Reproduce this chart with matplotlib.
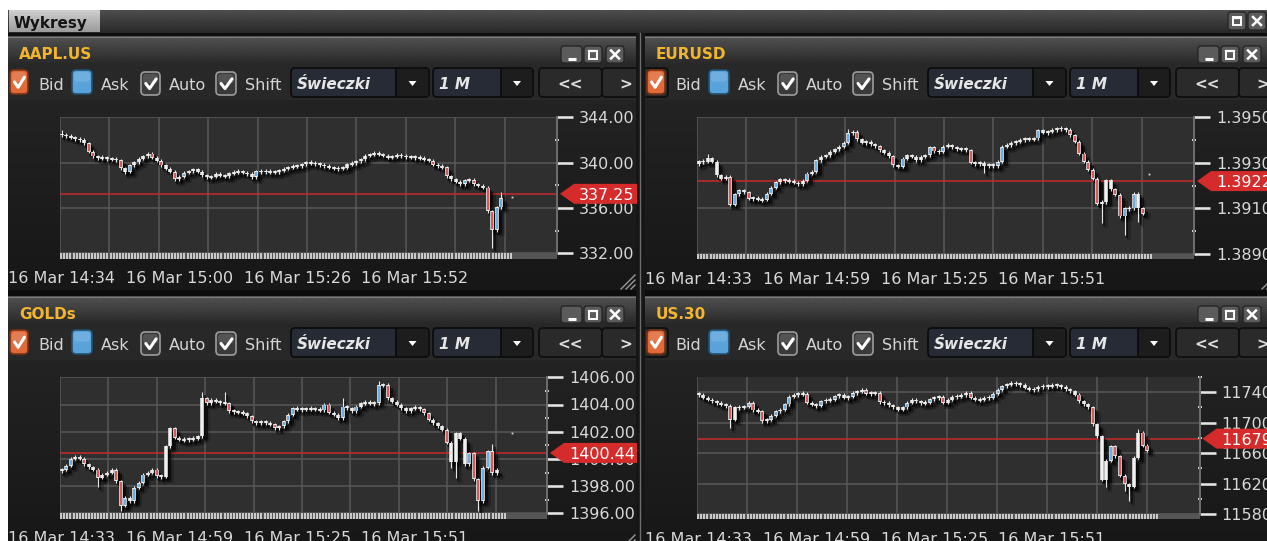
#!/usr/bin/env python
# -*- coding: utf-8 -*-

# Trading platform screenshot: four 1-minute candle charts ("Wykresy")

import numpy as np
import matplotlib
matplotlib.use('Agg')
import matplotlib.pyplot as plt
import matplotlib.transforms as mtransforms
from matplotlib.patches import Rectangle, FancyBboxPatch, Polygon
from matplotlib.collections import LineCollection
from matplotlib.colors import LinearSegmentedColormap

plt.rcParams['font.family'] = ['DejaVu Sans']
plt.rcParams['hatch.linewidth'] = 0.6

# ---------------------------------------------------------------- data
times_aapl = ['16 Mar 14:34', '16 Mar 15:00', '16 Mar 15:26', '16 Mar 15:52']
times_other = ['16 Mar 14:33', '16 Mar 14:59', '16 Mar 15:25', '16 Mar 15:51']
time_ticks = [0, 26, 52, 78]

# AAPL.US closes, one per minute
aapl_open0 = 342.5
aapl_close = [342.45, 342.35, 342.2, 342.1, 342.0, 341.7, 340.95, 340.55, 340.4, 340.45,
              340.3, 340.35, 340.2, 339.5, 339.2, 339.75, 340.05, 340.35, 340.55, 340.8,
              340.45, 340.15, 339.75, 339.45, 339.2, 338.55, 338.75, 339.1, 339.25, 339.4,
              339.2, 338.9, 338.7, 338.75, 339.0, 338.85, 338.8, 339.05, 339.15, 339.25,
              339.1, 339.0, 338.7, 339.25, 339.2, 339.25, 339.15, 339.2, 339.3, 339.45,
              339.6, 339.7, 339.7, 339.85, 340.05, 339.95, 339.9, 339.8, 339.7, 339.6,
              339.45, 339.5, 339.55, 339.85, 339.95, 340.1, 340.3, 340.6, 340.75, 340.8,
              340.75, 340.6, 340.45, 340.55, 340.65, 340.6, 340.5, 340.5, 340.45, 340.4,
              340.3, 340.15, 339.8, 339.7, 339.6, 338.8, 338.55, 338.3, 338.1, 338.45,
              338.5, 338.1, 337.95, 337.8, 335.7, 334.05, 336.05, 336.9]
aapl_high = {0: 342.9, 97: 337.4}
aapl_low = {14: 339.0, 95: 332.5}
aapl_plain = []
aapl_last = 337.25
aapl_dot = (99.4, 337.0)
aapl_major = [344, 340, 336, 332]
aapl_minor = [342, 338, 334]

# EURUSD
eur_open0 = 1.39295
eur_close = [1.39307, 1.39305, 1.3932, 1.39305, 1.39246, 1.39231, 1.39238, 1.39116, 1.39162, 1.3918,
             1.3917, 1.39143, 1.39147, 1.39138, 1.39138, 1.39165, 1.39191, 1.39216, 1.39227, 1.39221,
             1.39221, 1.39212, 1.39206, 1.39221, 1.39253, 1.3926, 1.39312, 1.39327, 1.39334, 1.39349,
             1.39359, 1.39371, 1.39388, 1.39429, 1.39437, 1.39403, 1.39388, 1.39393, 1.39382, 1.39374,
             1.39356, 1.39344, 1.3933, 1.3929, 1.39282, 1.39319, 1.39334, 1.39327, 1.39312, 1.39327,
             1.39334, 1.39368, 1.3935, 1.39349, 1.39371, 1.39378, 1.39368, 1.39359, 1.39363, 1.39356,
             1.393, 1.39297, 1.393, 1.39285, 1.39294, 1.39285, 1.39304, 1.39371, 1.39378, 1.39388,
             1.39393, 1.394, 1.39407, 1.39403, 1.39407, 1.39444, 1.39432, 1.39437, 1.39444, 1.39451,
             1.39451, 1.39445, 1.39422, 1.39393, 1.39341, 1.39304, 1.3927, 1.3923, 1.39121, 1.39128,
             1.39224, 1.39184, 1.3916, 1.39065, 1.391, 1.391, 1.39165, 1.391, 1.39077]
eur_high = {2: 1.3934, 33: 1.39448}
eur_low = {63: 1.39254, 89: 1.39035, 94: 1.38985, 97: 1.3904}
eur_plain = [4, 10, 89, 90, 91, 97]
eur_last = 1.3922
eur_dot = (99.5, 1.39249)
eur_major = [1.395, 1.393, 1.391, 1.389]
eur_minor = [1.394, 1.392, 1.390]

# GOLDs
gold_open0 = 1399.1
gold_close = [1399.22, 1399.5, 1400.0, 1400.15, 1400.0, 1399.6, 1399.4, 1399.22, 1398.6, 1398.85,
              1398.97, 1399.2, 1398.37, 1396.54, 1397.15, 1396.9, 1397.88, 1398.24, 1398.85, 1398.97,
              1399.22, 1398.73, 1398.7, 1400.93, 1402.27, 1401.54, 1401.41, 1401.41, 1401.46, 1401.5,
              1401.66, 1404.46, 1404.1, 1404.34, 1404.2, 1404.15, 1404.1, 1403.5, 1403.49, 1403.41,
              1403.36, 1403.12, 1402.76, 1402.63, 1402.76, 1402.63, 1402.56, 1402.27, 1402.39, 1402.76,
              1403.24, 1403.73, 1403.66, 1403.66, 1403.68, 1403.68, 1403.66, 1403.56, 1404.0, 1403.41,
              1403.24, 1403.0, 1403.85, 1403.73, 1403.49, 1403.85, 1404.1, 1404.17, 1404.1, 1404.1,
              1405.44, 1405.44, 1404.46, 1404.22, 1403.97, 1403.73, 1403.49, 1403.73, 1403.8, 1403.66,
              1403.37, 1402.88, 1402.63, 1402.39, 1402.15, 1401.17, 1399.8, 1401.9, 1401.5, 1399.6,
              1400.4, 1398.5, 1396.9, 1399.34, 1400.56, 1398.95, 1399.2]
gold_high = {31: 1404.95, 36: 1404.9, 62: 1404.45, 70: 1405.75, 95: 1401.1}
gold_low = {8: 1397.95, 13: 1396.2, 86: 1399.3, 87: 1398.6, 92: 1396.2}
gold_plain = [23, 24, 31, 86, 87, 88, 89]
gold_last = 1400.44
gold_dot = (99.4, 1401.9)
gold_major = [1406, 1404, 1402, 1400, 1398, 1396]
gold_minor = [1405, 1403, 1401, 1399, 1397]

# US.30
us_open0 = 11738
us_close = [11737, 11733, 11730, 11728, 11726, 11724, 11722, 11704, 11720, 11720,
            11721, 11726, 11716, 11715, 11702, 11704, 11709, 11715, 11717, 11724,
            11734, 11737, 11738, 11738, 11726, 11724, 11722, 11728, 11730, 11730,
            11735, 11737, 11733, 11734, 11739, 11741, 11743, 11738, 11739, 11739,
            11727, 11726, 11723, 11720, 11717, 11720, 11726, 11730, 11728, 11726,
            11726, 11731, 11733, 11734, 11726, 11730, 11734, 11735, 11736, 11739,
            11733, 11730, 11730, 11733, 11733, 11738, 11743, 11748, 11750, 11752,
            11751, 11750, 11746, 11743, 11744, 11747, 11748, 11748, 11749, 11749,
            11747, 11744, 11741, 11737, 11728, 11724, 11720, 11698, 11682, 11625,
            11650, 11669, 11656, 11630, 11619, 11616, 11654, 11687, 11670, 11663]
us_high = {97: 11692}
us_low = {7: 11693, 90: 11615, 94: 11610, 95: 11597}
us_plain = [8, 88, 89, 90, 95, 96, 97]
us_last = 11679
us_dot = None
us_major = [11740, 11700, 11660, 11620, 11580]
us_minor = [11760, 11720, 11680, 11640, 11600]

# ---------------------------------------------------------------- layout
W, H = 1267, 541
PX = 0.72      # points per pixel at 100 dpi
STEP = 4.53    # pixels per one-minute candle

fig = plt.figure(figsize=(W / 100, H / 100), dpi=100, facecolor='white')
bg = fig.add_axes([0, 0, 1, 1])
bg.axis('off')


def rect(x0, y0, x1, y1, fc, z=1, **kw):
    bg.add_patch(Rectangle((x0, y0), x1 - x0, y1 - y0, facecolor=fc, edgecolor='none', lw=0, zorder=z, **kw))


def gradient(x0, y0, x1, y1, top, bottom, z=1):
    cmap = LinearSegmentedColormap.from_list('g', [top, bottom])
    bg.imshow(np.linspace(0, 1, 50).reshape(-1, 1), extent=(x0, x1, y1, y0), cmap=cmap,
              aspect='auto', zorder=z, interpolation='bilinear')


def hatch(x0, y0, x1, y1, z=1.1):
    bg.add_patch(Rectangle((x0, y0), x1 - x0, y1 - y0, fill=False, hatch='/' * 14,
                           edgecolor=(0, 0, 0, 0.22), lw=0, zorder=z))


def button(x0, y0, x1, y1, glyph):
    bg.add_patch(FancyBboxPatch((x0, y0), x1 - x0, y1 - y0, boxstyle='round,pad=0,rounding_size=3',
                                fc='#5b5b5b', ec='#262626', lw=1, zorder=3))
    cx, cy = (x0 + x1) / 2, (y0 + y1) / 2
    if glyph == 'min':
        bg.plot([cx - 4, cx + 4], [cy + 4, cy + 4], color='white', lw=2.2, zorder=4, solid_capstyle='butt')
    elif glyph == 'max':
        bg.add_patch(Rectangle((cx - 4, cy - 4), 8, 8, fill=False, ec='white', lw=1.4, zorder=4))
        bg.plot([cx - 4, cx + 4], [cy - 3.3, cy - 3.3], color='white', lw=1.6, zorder=4)
    else:
        bg.plot([cx - 4, cx + 4], [cy - 4, cy + 4], color='white', lw=1.8, zorder=4)
        bg.plot([cx - 4, cx + 4], [cy + 4, cy - 4], color='white', lw=1.8, zorder=4)


def checkbox(x0, y0, x1, y1, fc, ec, check):
    w, h = x1 - x0, y1 - y0
    bg.add_patch(FancyBboxPatch((x0, y0), w, h, boxstyle='round,pad=0,rounding_size=4',
                                fc=fc, ec=ec, lw=1.2, zorder=3))
    bg.add_patch(FancyBboxPatch((x0 + 2, y0 + 2), w - 4, h * 0.4, boxstyle='round,pad=0,rounding_size=3',
                                fc='white', alpha=0.13, ec='none', zorder=3.1))
    if check:
        bg.plot([x0 + 0.25 * w, x0 + 0.45 * w, x0 + 0.8 * w], [y0 + 0.5 * h, y0 + 0.72 * h, y0 + 0.3 * h],
                color='white', lw=2.2, zorder=4, solid_capstyle='round', solid_joinstyle='round')


def dropdown(x0, x1, xdiv, label, dy):
    bg.add_patch(FancyBboxPatch((x0, 68 + dy), x1 - x0, 29, boxstyle='round,pad=0,rounding_size=4',
                                fc='#262b35', ec='#0a0a0a', lw=1.2, zorder=3))
    rect(xdiv, 69 + dy, x1 - 1.5, 96 + dy, '#1d1d1d', z=3.1)
    bg.plot([xdiv, xdiv], [69 + dy, 96 + dy], color='#0a0a0a', lw=1.2, zorder=3.2)
    cx, cy = (xdiv + x1) / 2, 83 + dy
    bg.add_patch(Polygon([(cx - 4, cy - 2), (cx + 4, cy - 2), (cx, cy + 3)], fc='white', ec='none', zorder=3.3))
    bg.text(x0 + 6, 83 + dy, label, color='#e6e6e6', fontsize=11, fontweight='bold', fontstyle='italic',
            va='center_baseline', zorder=3.3)


def navbutton(x0, x1, label, tx, dy):
    bg.add_patch(FancyBboxPatch((x0, 68 + dy), x1 - x0, 29, boxstyle='round,pad=0,rounding_size=4',
                                fc='#2a2a2a', ec='#0d0d0d', lw=1.2, zorder=3))
    bg.text(tx, 83 + dy, label, color='#e0e0e0', fontsize=11, fontweight='bold', ha='center',
            va='center_baseline', zorder=3.3)


def panel(ox, dy, right, title):
    gradient(ox, 36 + dy, right, 65 + dy, '#5c5c5c', '#2d2d2d')
    hatch(ox, 36 + dy, right, 65 + dy)
    bg.plot([ox, right], [36.5 + dy] * 2, color='#7c7c7c', lw=0.8, zorder=2)
    bg.text(ox + 11, 53 + dy, title, color='#f3b52f', fontsize=11, fontweight='bold',
            va='center_baseline', zorder=3)
    for (a, b), g in zip([(553, 574), (576, 594), (598, 616)], ['min', 'max', 'close']):
        button(ox + a, 46 + dy, ox + b, 63 + dy, g)
    rect(ox, 65 + dy, right, 100 + dy, '#282828', z=1)
    gradient(ox, 100 + dy, right, 290 + dy, '#232323', '#171717')
    txt = dict(color='#d4d4d4', fontsize=11.5, va='center_baseline', zorder=3)
    checkbox(ox + 2, 70 + dy, ox + 20, 94 + dy, '#e06a3a', '#7a3214', True)
    bg.text(ox + 30, 83.5 + dy, 'Bid', **txt)
    checkbox(ox + 64, 70 + dy, ox + 84, 94 + dy, '#5aa3da', '#23506f', False)
    bg.text(ox + 93, 83.5 + dy, 'Ask', **txt)
    checkbox(ox + 133, 72 + dy, ox + 152, 95 + dy, '#3a3a3a', '#9c9c9c', True)
    bg.text(ox + 161, 83.5 + dy, 'Auto', **txt)
    checkbox(ox + 208, 72 + dy, ox + 228, 95 + dy, '#3a3a3a', '#9c9c9c', True)
    bg.text(ox + 237, 83.5 + dy, 'Shift', **txt)
    dropdown(ox + 283, ox + 421, ox + 388, 'Świeczki', dy)
    dropdown(ox + 425, ox + 525, ox + 493, '1 M', dy)
    navbutton(ox + 531, ox + 594, '<<', ox + 562, dy)
    navbutton(ox + 594, ox + 660, '>', ox + 618, dy)
    for k in range(3):
        bg.plot([right - 15 + 5 * k, right - 1], [289 + dy, 275 + dy + 5 * k], color='#9a9a9a', lw=1, zorder=3)


# window frame
rect(8, 10, W, H, '#1a1a1a', z=0.5)
gradient(8, 10, W, 33, '#585858', '#2e2e2e')
hatch(8, 10, W, 33)
gradient(9, 10, 100, 32, '#cfcfcf', '#9c9c9c', z=2)
bg.text(14, 22, 'Wykresy', fontsize=11, fontweight='bold', color='#141414', va='center_baseline', zorder=3)
button(1228, 12, 1246, 30, 'max')
button(1248, 12, 1266, 30, 'close')
rect(8, 33, W, 36, '#0e0e0e', z=1.5)

panel(8, 0, 636, 'AAPL.US')
panel(645, 0, W + 10, 'EURUSD')
panel(8, 260, 636, 'GOLDs')
panel(645, 260, W + 10, 'US.30')

rect(8, 290, W, 296, '#0c0c0c', z=5)
rect(636, 33, 645, H, '#161616', z=5)
bg.plot([639.5, 639.5], [33, H], color='#6e6e6e', lw=1, zorder=5.1)

bg.set_xlim(0, W)
bg.set_ylim(H, 0)


# ---------------------------------------------------------------- charts
def chart(box, closes, open0, highs, lows, plain, ylim, major, minor, fmt,
          last, dot, times, panel_right):
    x0, y0, x1, y1 = box
    width, height = x1 - x0, y1 - y0
    ax = fig.add_axes([x0 / W, 1 - y1 / H, width / W, height / H])
    ax.set_facecolor('#2f2f2f')
    ax.set_xlim(-1.7 / STEP, (width - 1.7) / STEP)
    ax.set_ylim(*ylim)
    unit = (ylim[1] - ylim[0]) / height

    for s in ['top', 'left', 'bottom']:
        ax.spines[s].set_visible(False)
    ax.spines['right'].set_color('#6c6c6c')
    ax.spines['right'].set_linewidth(2 * PX)
    ax.yaxis.tick_right()
    ax.set_yticks(major)
    ax.set_yticklabels([fmt.format(v) for v in major])
    ax.set_yticks(minor, minor=True)
    ax.tick_params(axis='y', which='major', direction='out', length=16 * PX, width=2.6 * PX,
                   color='#e4e4e4', pad=6 * PX, labelsize=11.5, labelcolor='#d8d8d8')
    ax.tick_params(axis='y', which='minor', direction='inout', length=4 * PX, width=2 * PX, color='#d0d0d0')
    ax.set_xticks(time_ticks)
    ax.set_xticklabels(times)
    ax.tick_params(axis='x', length=0, pad=18 * PX, labelsize=11.5, labelcolor='#d8d8d8')

    for v in major:
        ax.axhline(v, color='#595959', lw=1.5 * PX, zorder=0.5)
    for k in range(10):
        ax.axvline((k * width / 10.06 - 1.7) / STEP, color='#595959', lw=1.5 * PX, zorder=0.5)
    ax.axhline(last, color='#cc2a2a', lw=1.5 * PX, zorder=1)

    # candles
    n = len(closes)
    xs = np.arange(n)
    opens = [open0] + list(closes[:-1])
    blo, bhi, wlo, whi, fills = [], [], [], [], []
    for i in range(n):
        o, c = opens[i], closes[i]
        lo, hi = min(o, c), max(o, c)
        if hi - lo < 1.8 * unit:
            mid = (o + c) / 2
            lo, hi = mid - 0.9 * unit, mid + 0.9 * unit
        blo.append(lo)
        bhi.append(hi)
        whi.append(max(highs.get(i, hi + 1.5 * unit), hi))
        wlo.append(min(lows.get(i, lo - 1.5 * unit), lo))
        if i in plain or c == o:
            fills.append('#f2f2f2')
        elif c < o:
            fills.append('#d03838')
        else:
            fills.append('#47a2e6')

    def segs(lo, hi, idx=None):
        idx = range(n) if idx is None else idx
        return [[(xs[i], lo[i]), (xs[i], hi[i])] for i in idx]

    for dx, dy, lwb, alpha in [(4, -5, 7, 0.2), (2.5, -3, 5, 0.5)]:
        sh = mtransforms.offset_copy(ax.transData, x=dx, y=dy, units='dots')
        ax.add_collection(LineCollection(segs(blo, bhi), colors='black', alpha=alpha,
                                         linewidths=lwb * PX, transform=sh, zorder=2, capstyle='butt'))
        ax.add_collection(LineCollection(segs(wlo, whi), colors='black', alpha=alpha,
                                         linewidths=(lwb - 3) * PX, transform=sh, zorder=2, capstyle='butt'))
    ax.add_collection(LineCollection(segs(wlo, whi), colors='#e8e8e8', linewidths=1.1 * PX,
                                     zorder=3, capstyle='butt'))
    ax.add_collection(LineCollection(segs(blo, bhi), colors='#ececec', linewidths=3.6 * PX,
                                     zorder=3.1, capstyle='butt'))
    tall = [i for i in range(n) if (bhi[i] - blo[i]) > 3.5 * unit]
    ilo = [b + 0.9 * unit for b in blo]
    ihi = [b - 0.9 * unit for b in bhi]
    ax.add_collection(LineCollection(segs(ilo, ihi, tall), colors=[fills[i] for i in tall],
                                     linewidths=1.6 * PX, zorder=3.2, capstyle='butt'))
    if dot is not None:
        ax.plot([dot[0]], [dot[1]], marker='s', ms=1.8 * PX, color='#d8d8d8', mew=0, zorder=3)

    # scroll strip under the plot
    strip = mtransforms.blended_transform_factory(ax.transData, ax.transAxes)
    ax.add_patch(Rectangle((0, -0.04), 1, 0.04, transform=ax.transAxes, fc='#555555', ec='none',
                           clip_on=False, zorder=2))
    sx = np.arange(-0.1, n + 1.5, 0.68)
    ax.add_collection(LineCollection([[(x, -0.04), (x, 0.0)] for x in sx], colors='#e6e6e6',
                                     linewidths=1.6 * PX, transform=strip, clip_on=False, zorder=2.5))

    # current price tag
    anchor = mtransforms.blended_transform_factory(ax.transAxes, ax.transData)
    tr = mtransforms.Affine2D() + mtransforms.ScaledTranslation(1.0, last, anchor)
    r = panel_right - x1
    ax.add_patch(Polygon([(3, 0), (17, 10), (r, 10), (r, -10), (17, -10)], closed=True, transform=tr,
                         fc='#d62b2b', ec='none', clip_on=False, zorder=6))
    ax.text(22, 0, fmt.format(last), transform=tr, ha='left', va='center_baseline', color='white',
            fontsize=11.5, zorder=7, clip_on=False)
    return ax


chart((60, 117.3, 557, 253.3), aapl_close, aapl_open0, aapl_high, aapl_low, aapl_plain,
      (332, 344), aapl_major, aapl_minor, '{:.2f}', aapl_last, aapl_dot, times_aapl, 637)
chart((697, 117.3, 1194, 254), eur_close, eur_open0, eur_high, eur_low, eur_plain,
      (1.389, 1.395), eur_major, eur_minor, '{:.4f}', eur_last, eur_dot, times_other, W + 10)
chart((60, 377.3, 547, 513.3), gold_close, gold_open0, gold_high, gold_low, gold_plain,
      (1396, 1406), gold_major, gold_minor, '{:.2f}', gold_last, gold_dot, times_other, 637)
chart((697, 377, 1199.5, 514), us_close, us_open0, us_high, us_low, us_plain,
      (11580, 11760), us_major, us_minor, '{:.0f}', us_last, us_dot, times_other, W + 10)

fig.savefig('out.png', dpi=100, facecolor='white')
